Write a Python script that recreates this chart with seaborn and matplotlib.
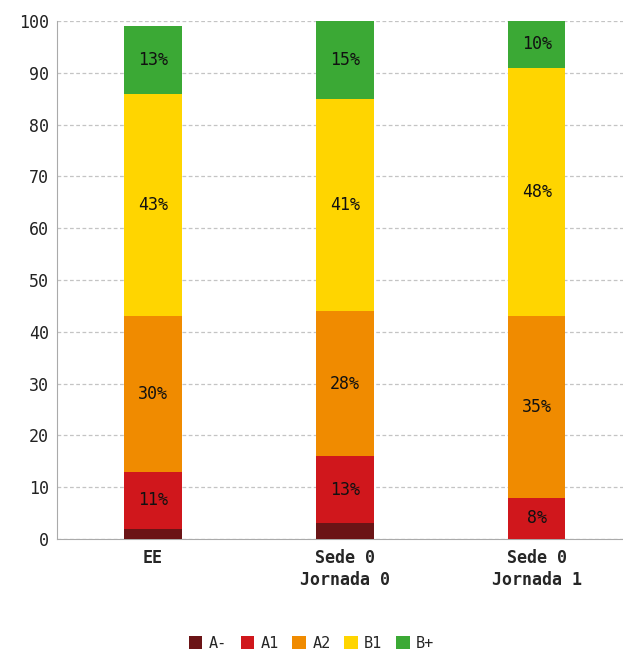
import numpy as np
import pandas as pd
import seaborn as sns
import matplotlib.pyplot as plt
from matplotlib.patches import Patch

# Data (percent per level)
groups = ["EE", "Sede 0\nJornada 0", "Sede 0\nJornada 1"]
levels = ["A-", "A1", "A2", "B1", "B+"]
a_minus = [2, 3, 0]
a1 = [11, 13, 8]
a2 = [30, 28, 35]
b1 = [43, 41, 48]
b_plus = [13, 15, 10]

colors = ["#6b1416", "#d0171c", "#f08b00", "#ffd500", "#3ba935"]

sns.set_style("white")
plt.rcParams['font.family'] = ['DejaVu Sans Mono']

fig = plt.figure(figsize=(6.23, 6.54), dpi=100)
ax = fig.add_axes([57 / 623, 115 / 654, 566 / 623, 518 / 654])

values = np.array([a_minus, a1, a2, b1, b_plus])
cum = values.cumsum(axis=0)

# draw cumulative bars from the top level down so each one covers the rest
for i in range(len(levels) - 1, -1, -1):
    df = pd.DataFrame({"group": groups, "value": cum[i]})
    sns.barplot(data=df, x="group", y="value", color=colors[i], width=0.3,
                saturation=1, linewidth=0, ax=ax, zorder=3)

# percentage labels centered in each segment (clipped at 100)
for i in range(len(levels)):
    for j in range(len(groups)):
        v = values[i, j]
        if v >= 5:
            lo = cum[i, j] - v
            hi = min(cum[i, j], 100)
            ax.text(j, (lo + hi) / 2, f"{v}%",
                    ha="center", va="center", fontsize=12, color="#111111",
                    zorder=5)

ax.set_ylim(0, 100)
ax.set_xlim(-0.5, 2.45)
ax.set_yticks(range(0, 101, 10))
ax.set_xlabel("")
ax.set_ylabel("")
ax.yaxis.grid(True, linestyle=(0, (3, 2)), color="#c4c4c4", linewidth=0.9, zorder=0)
ax.set_axisbelow(True)
for s in ["top", "right"]:
    ax.spines[s].set_visible(False)
ax.spines["left"].set_color("#aaaaaa")
ax.spines["bottom"].set_color("#aaaaaa")
ax.tick_params(axis="y", length=0, labelsize=12, pad=6, labelcolor="#222222")
ax.tick_params(axis="x", length=4, color="#cccccc", labelsize=12, pad=3)
for lbl in ax.get_xticklabels():
    lbl.set_fontweight("bold")
    lbl.set_linespacing(1.3)

handles = [Patch(facecolor=c, edgecolor="none", label=l) for c, l in zip(colors, levels)]
fig.legend(handles=handles, loc="center", bbox_to_anchor=(0.5, 11 / 654), ncol=5,
           frameon=False, fontsize=11, handlelength=0.9, handleheight=0.9,
           handletextpad=0.4, columnspacing=0.9)

fig.savefig("out.png", dpi=100)
